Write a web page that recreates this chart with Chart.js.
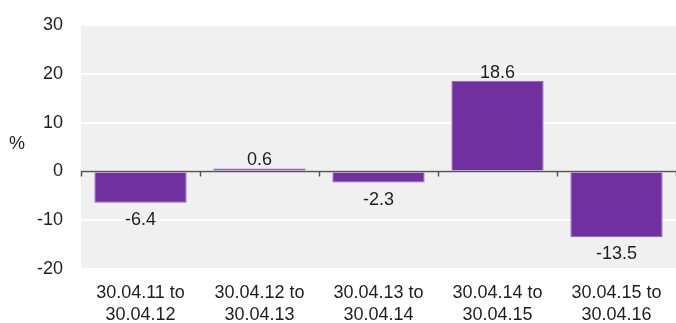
<!DOCTYPE html>
<html>
<head>
<meta charset="utf-8">
<script src="https://cdn.jsdelivr.net/npm/chart.js@4"></script>
<style>
  html, body { margin: 0; padding: 0; background: #ffffff; }
  #wrap { width: 676px; height: 323px; }
</style>
</head>
<body>
<div id="wrap"><canvas id="c" width="676" height="323"></canvas></div>
<script>
// Annual percentage change per twelve-month period
const periods = [
  ["30.04.11 to", "30.04.12"],
  ["30.04.12 to", "30.04.13"],
  ["30.04.13 to", "30.04.14"],
  ["30.04.14 to", "30.04.15"],
  ["30.04.15 to", "30.04.16"]
];
const changes = [-6.4, 0.6, -2.3, 18.6, -13.5];
const yTicks = [-20, -10, 0, 10, 20, 30];
const unitLabel = "%";

const FONT = '"Liberation Sans", Arial, Helvetica, sans-serif';
const TEXT = "#1e1e1e";
const BAR = "#7030a0";

// Grey plot panel behind the grid
const panelBg = {
  id: "panelBg",
  beforeDraw(chart) {
    const { ctx, chartArea: a } = chart;
    ctx.save();
    ctx.fillStyle = "#f0f0f0";
    ctx.fillRect(a.left, a.top, a.right - a.left, a.bottom - a.top);
    ctx.restore();
  }
};

// Zero baseline with category separator ticks, value labels and unit label
const overlay = {
  id: "overlay",
  afterDatasetsDraw(chart) {
    const { ctx, chartArea: a, scales } = chart;
    const y0 = scales.y.getPixelForValue(0);
    ctx.save();
    ctx.strokeStyle = "#555555";
    ctx.lineWidth = 1.5;
    ctx.beginPath();
    ctx.moveTo(a.left, y0);
    ctx.lineTo(a.right, y0);
    const n = changes.length;
    const step = (a.right - a.left) / n;
    for (let i = 0; i <= n; i++) {
      const x = Math.round(a.left + i * step) + 0.5;
      ctx.moveTo(x, y0);
      ctx.lineTo(x, y0 + 5);
    }
    ctx.stroke();

    ctx.font = "18px " + FONT;
    ctx.fillStyle = TEXT;
    ctx.textAlign = "center";
    const meta = chart.getDatasetMeta(0);
    meta.data.forEach((bar, i) => {
      const v = changes[i];
      const txt = v.toFixed(1);
      if (v >= 0) {
        ctx.textBaseline = "bottom";
        ctx.fillText(txt, bar.x, bar.y + 1);
      } else {
        ctx.textBaseline = "top";
        ctx.fillText(txt, bar.x, bar.y + 8);
      }
    });

    ctx.textAlign = "left";
    ctx.textBaseline = "middle";
    ctx.fillText(unitLabel, 9, 144);
    ctx.restore();
  }
};

new Chart(document.getElementById("c"), {
  type: "bar",
  data: {
    labels: periods,
    datasets: [{
      data: changes,
      backgroundColor: BAR,
      borderColor: "#8c5cb8",
      borderWidth: 1,
      categoryPercentage: 1,
      barPercentage: 0.775
    }]
  },
  options: {
    responsive: false,
    animation: false,
    devicePixelRatio: 1,
    layout: { padding: { top: 25, right: 0, left: 0, bottom: 0 } },
    plugins: { legend: { display: false }, tooltip: { enabled: false } },
    scales: {
      x: {
        grid: { display: false },
        border: { display: false },
        ticks: {
          color: TEXT,
          font: { family: FONT, size: 18, lineHeight: 1.22 },
          padding: 5,
          maxRotation: 0,
          autoSkip: false
        },
        afterFit(s) { s.height = 54; s.paddingLeft = 0; s.paddingRight = 0; }
      },
      y: {
        min: -20,
        max: 30,
        afterBuildTicks(s) { s.ticks = yTicks.map(v => ({ value: v })); },
        grid: { color: "#ffffff", lineWidth: 2, drawTicks: false },
        border: { display: false },
        ticks: {
          color: TEXT,
          font: { family: FONT, size: 18 },
          padding: 18
        },
        afterFit(s) { s.width = 81; s.paddingTop = 0; s.paddingBottom = 0; }
      }
    }
  },
  plugins: [panelBg, overlay]
});
</script>
</body>
</html>
